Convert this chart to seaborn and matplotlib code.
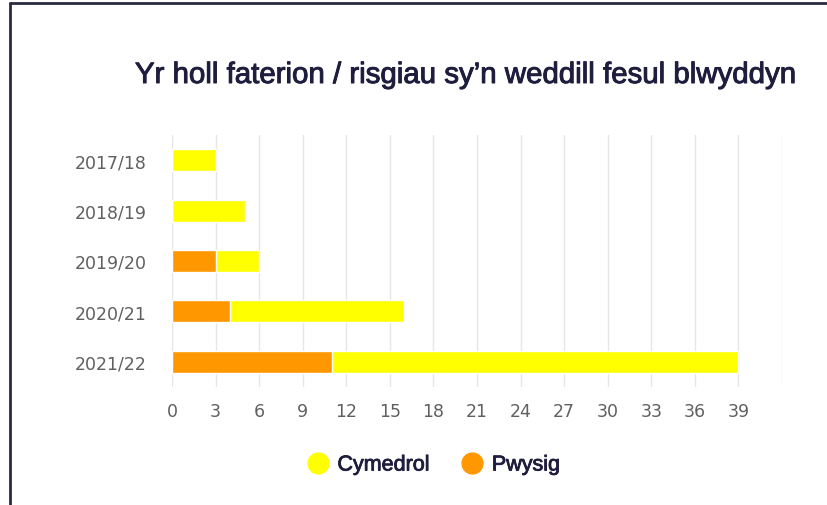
import numpy as np
import pandas as pd
import seaborn as sns
import matplotlib.pyplot as plt
import matplotlib.patheffects as pe
from matplotlib.lines import Line2D

years = ["2017/18", "2018/19", "2019/20", "2020/21", "2021/22"]
pwysig = [0, 0, 3, 4, 11]
cymedrol = [3, 5, 3, 12, 28]
tick_vals = list(range(0, 43, 3))
tick_labels = [str(v) if v <= 39 else "" for v in tick_vals]

YELLOW = "#ffff00"
ORANGE = "#ff9800"
NAVY = "#1f1d3d"

df = pd.DataFrame({"year": years, "pwysig": pwysig, "cymedrol": cymedrol})
df["total"] = df["pwysig"] + df["cymedrol"]

sns.set_style("white")
plt.rcParams["font.family"] = ["DejaVu Sans"]

fig = plt.figure(figsize=(8.28, 5.06), dpi=100)
ax = fig.add_axes([172 / 828, 1 - 388 / 506, 610 / 828, 252 / 506])

sns.barplot(data=df, y="year", x="total", color=YELLOW, orient="h",
            width=0.44, edgecolor="white", linewidth=1, ax=ax, saturation=1)
sns.barplot(data=df, y="year", x="pwysig", color=ORANGE, orient="h",
            width=0.44, edgecolor="white", linewidth=1, ax=ax, saturation=1)

ax.set_xlim(0, 42)
ax.set_xticks(tick_vals)
ax.set_xticklabels(tick_labels)
ax.grid(axis="x", color="#e6e6e6", linewidth=1)
ax.set_axisbelow(True)
for s in ax.spines.values():
    s.set_visible(False)
ax.axvline(0, color="#ccd6eb", linewidth=1.2, zorder=0.5)
ax.tick_params(axis="both", length=0, labelsize=12.5, labelcolor="#606060")
ax.tick_params(axis="x", pad=11)
ax.tick_params(axis="y", pad=18)
ax.set_xlabel("")
ax.set_ylabel("")

thick = [pe.withStroke(linewidth=0.7, foreground=NAVY)]
fig.text(0.5616, 1 - 76 / 506, "Yr holl faterion / risgiau sy\u2019n weddill fesul blwyddyn",
         ha="center", va="center", fontsize=21.2, color=NAVY, family="Liberation Sans",
         path_effects=thick)

handles = [
    Line2D([], [], marker="o", linestyle="", markersize=15, color=YELLOW),
    Line2D([], [], marker="o", linestyle="", markersize=15, color=ORANGE),
]
leg = fig.legend(handles, ["Cymedrol", "Pwysig"], loc="center",
                 bbox_to_anchor=(0.5236, 1 - 466 / 506), ncol=2, frameon=False,
                 prop={"family": "Liberation Sans", "size": 15.5},
                 handlelength=1.0, handletextpad=0.4, columnspacing=1.5)
for t in leg.get_texts():
    t.set_color(NAVY)
    t.set_path_effects([pe.withStroke(linewidth=0.6, foreground=NAVY)])

# frame edges as in the screenshot
fig.add_artist(Line2D([10 / 828, 1], [1 - 4 / 506, 1 - 4 / 506], color="#2a2a40",
                      linewidth=2, transform=fig.transFigure))
fig.add_artist(Line2D([10 / 828, 10 / 828], [0, 1 - 4 / 506], color="#2a2a40",
                      linewidth=2, transform=fig.transFigure))

fig.savefig("out.png", dpi=100)
